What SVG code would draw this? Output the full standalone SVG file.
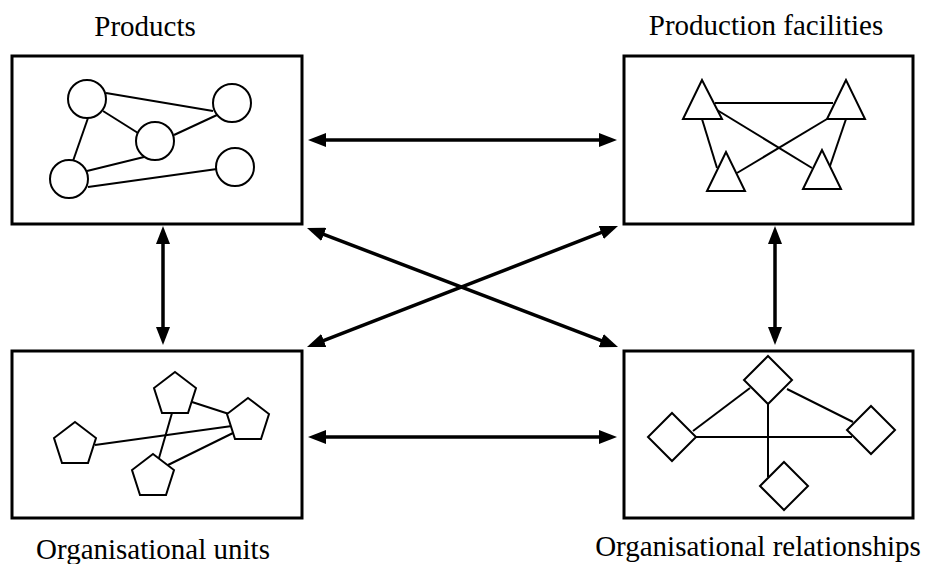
<svg xmlns="http://www.w3.org/2000/svg" width="932" height="564" viewBox="0 0 932 564">
<style>
.box{fill:#fff;stroke:#000;stroke-width:3}
.sh{fill:#fff;stroke:#000;stroke-width:2}
.ln{stroke:#000;stroke-width:2;fill:none}
.lbl{font-family:"Liberation Serif","Times New Roman",serif;font-size:29px;fill:#000;text-anchor:middle}
.conn{stroke:#000;stroke-width:3.5;fill:none;marker-start:url(#ah);marker-end:url(#ah)}
</style>
<defs>
<marker id="ah" markerUnits="userSpaceOnUse" markerWidth="18" markerHeight="14" refX="12" refY="7" orient="auto-start-reverse" viewBox="0 0 18 14">
<path d="M0,0 L18,7 L0,14 z" fill="#000"/>
</marker>
</defs>
<rect width="932" height="564" fill="#fff"/>

<g id="products">
<rect class="box" x="12" y="56" width="290" height="168"/>
<line class="ln" x1="106" y1="93" x2="213" y2="111"/>
<line class="ln" x1="103" y1="111" x2="138" y2="133"/>
<line class="ln" x1="174" y1="135" x2="217" y2="115"/>
<line class="ln" x1="88" y1="118" x2="73" y2="161"/>
<line class="ln" x1="87" y1="171" x2="144" y2="157"/>
<line class="ln" x1="88" y1="187" x2="217" y2="169"/>
<circle class="sh" cx="87" cy="99" r="19"/>
<circle class="sh" cx="232" cy="103" r="19"/>
<circle class="sh" cx="155" cy="141" r="19"/>
<circle class="sh" cx="69" cy="179" r="19"/>
<circle class="sh" cx="235" cy="167" r="19"/>
<text class="lbl" x="145" y="36">Products</text>
</g>

<g id="production-facilities">
<rect class="box" x="624" y="56" width="289" height="168"/>
<line class="ln" x1="715" y1="103" x2="833" y2="103"/>
<line class="ln" x1="717" y1="110" x2="812" y2="168"/>
<line class="ln" x1="827" y1="119" x2="737" y2="173"/>
<line class="ln" x1="702" y1="119" x2="717" y2="168"/>
<line class="ln" x1="846" y1="119" x2="830" y2="166"/>
<polygon class="sh" points="702,80 683,119 722,119"/>
<polygon class="sh" points="846,80 827,119 865,119"/>
<polygon class="sh" points="726,152 707,191 745,191"/>
<polygon class="sh" points="822,150 803,189 841,189"/>
<text class="lbl" x="766" y="35">Production facilities</text>
</g>

<g id="organisational-units">
<rect class="box" x="12" y="351" width="290" height="167"/>
<line class="ln" x1="95" y1="445" x2="232" y2="426"/>
<line class="ln" x1="192" y1="402" x2="229" y2="414"/>
<line class="ln" x1="172" y1="413" x2="159" y2="458"/>
<line class="ln" x1="168" y1="465" x2="233" y2="433"/>
<polygon class="sh" points="75,422 96,438 88,463 62,463 54,438"/>
<polygon class="sh" points="175,372 196,388 188,413 162,413 154,388"/>
<polygon class="sh" points="248,398 269,414 261,439 235,439 227,414"/>
<polygon class="sh" points="153,454 174,470 166,495 140,495 132,470"/>
<text class="lbl" x="153" y="559">Organisational units</text>
</g>

<g id="organisational-relationships">
<rect class="box" x="624" y="351" width="289" height="167"/>
<line class="ln" x1="750" y1="388" x2="693" y2="431"/>
<line class="ln" x1="787" y1="389" x2="853" y2="422"/>
<line class="ln" x1="696" y1="437" x2="852" y2="437"/>
<line class="ln" x1="768" y1="404" x2="768" y2="477"/>
<polygon class="sh" points="768,356 792,380 768,404 744,380"/>
<polygon class="sh" points="672,413 696,437 672,461 648,437"/>
<polygon class="sh" points="871,406 895,430 871,454 847,430"/>
<polygon class="sh" points="784,462 808,486 784,510 760,486"/>
<text class="lbl" x="758" y="556">Organisational relationships</text>
</g>

<g id="connectors">
<line class="conn" x1="314" y1="140" x2="611" y2="140"/>
<line class="conn" x1="314" y1="437" x2="611" y2="437"/>
<line class="conn" x1="163" y1="232" x2="163" y2="339"/>
<line class="conn" x1="775" y1="232" x2="775" y2="339"/>
<line class="conn" x1="312.6" y1="230.1" x2="612.4" y2="344.9"/>
<line class="conn" x1="612.4" y1="228.2" x2="312.6" y2="344.8"/>
</g>
</svg>
